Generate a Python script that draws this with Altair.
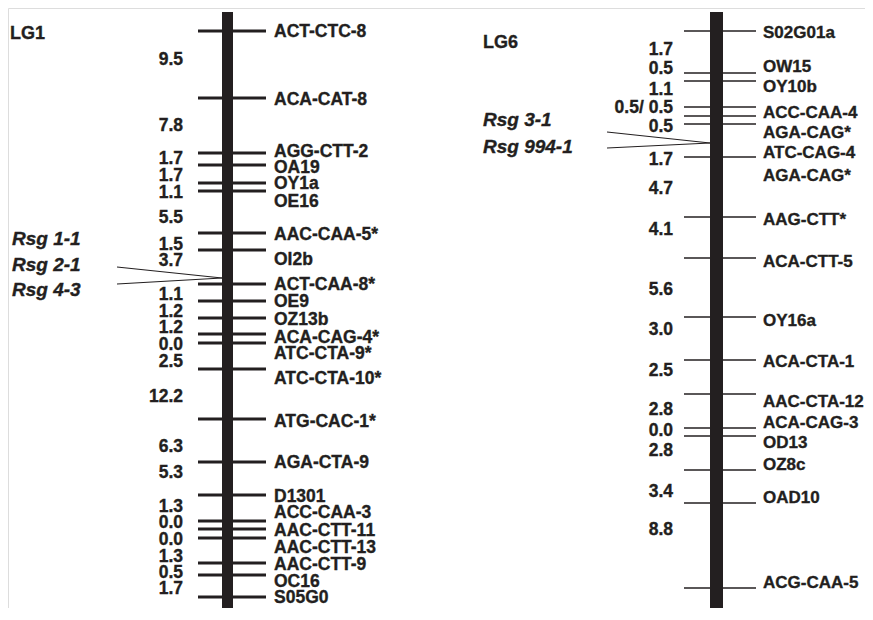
import altair as alt
import pandas as pd

# ---------------- data ----------------
# LG1 markers, their drawn map positions and label positions
lg1_markers = ["ACT-CTC-8", "ACA-CAT-8", "AGG-CTT-2", "OA19", "OY1a", "OE16",
               "AAC-CAA-5*", "OI2b", "ACT-CAA-8*", "OE9", "OZ13b", "ACA-CAG-4*",
               "ATC-CTA-9*", "ATC-CTA-10*", "ATG-CAC-1*", "AGA-CTA-9", "D1301",
               "ACC-CAA-3", "AAC-CTT-11", "AAC-CTT-13", "AAC-CTT-9", "OC16", "S05G0"]
lg1_pos = [31, 98, 153, 165, 183, 191, 233, 250, 284, 301, 318, 334, 343, 369,
           419, 462, 495, 521, 529, 538, 563, 575, 597]
lg1_label_pos = [32, 100, 152, 168, 184, 202, 235, 260, 285, 302, 320, 338, 354,
                 379, 422, 463, 497, 513, 531, 548, 565, 582, 598]
lg1_dist = ["9.5", "7.8", "1.7", "1.7", "1.1", "5.5", "1.5", "3.7", "1.1", "1.2",
            "1.2", "0.0", "2.5", "12.2", "6.3", "5.3", "1.3", "0.0", "0.0", "1.3",
            "0.5", "1.7"]
lg1_dist_pos = [60, 126, 159, 176, 193, 218, 245, 261, 295, 312, 328, 345, 362,
                397, 447, 473, 507, 523, 540, 557, 573, 589]
lg1_qtl = ["Rsg 1-1", "Rsg 2-1", "Rsg 4-3"]
lg1_qtl_pos = [239, 265, 290]
lg1_qtl_line_from = [267, 284]
lg1_qtl_at = 278

# LG6
lg6_markers = ["S02G01a", "OW15", "OY10b", "", "ACC-CAA-4", "AGA-CAG*", "ATC-CAG-4",
               "AGA-CAG*", "AAG-CTT*", "ACA-CTT-5", "OY16a", "ACA-CTA-1",
               "AAC-CTA-12", "ACA-CAG-3", "OD13", "OZ8c", "OAD10", "ACG-CAA-5"]
lg6_pos = [31, 73, 81, 107, 116, 124, 157, None, 217, 258, 317, 360, 394, 428,
           436, 470, 503, 588]
lg6_label_pos = [33, 67, 87, None, 113, 133, 153, 176, 220, 262, 321, 362, 402,
                 423, 443, 465, 498, 583]
lg6_dist = ["1.7", "0.5", "1.1", "0.5/ 0.5", "0.5", "1.7", "4.7", "4.1", "5.6",
            "3.0", "2.5", "2.8", "0.0", "2.8", "3.4", "8.8"]
lg6_dist_pos = [50, 69, 90, 108, 127, 160, 189, 230, 290, 330, 371, 410, 431,
                451, 492, 530]
lg6_qtl = ["Rsg 3-1", "Rsg 994-1"]
lg6_qtl_pos = [120, 147]
lg6_qtl_line_from = [132, 148]
lg6_qtl_at = 143

# ---------------- layout (page pixels) ----------------
W, H = 857, 600
layout = {
    "LG1": dict(bar=(222, 233), top=12, bottom=618, tick=(198, 266), tw=3.0,
                label_x=274, label_fs=17.5, dist_x=183, title=(10, 34),
                qtl_x=12, qline_x=117),
    "LG6": dict(bar=(710, 723), top=12, bottom=614, tick=(684, 756), tw=1.5,
                label_x=763, label_fs=17, dist_x=673, title=(483, 43),
                qtl_x=483, qline_x=607),
}
INK = "#231f20"
FONT = "Liberation Sans"

bars, ticks, labels, dists, titles, qlabels, qlines = [], [], [], [], [], [], []
for g, mk, ps, lp, ds, dp, qn, qp, qf, qa in [
    ("LG1", lg1_markers, lg1_pos, lg1_label_pos, lg1_dist, lg1_dist_pos,
     lg1_qtl, lg1_qtl_pos, lg1_qtl_line_from, lg1_qtl_at),
    ("LG6", lg6_markers, lg6_pos, lg6_label_pos, lg6_dist, lg6_dist_pos,
     lg6_qtl, lg6_qtl_pos, lg6_qtl_line_from, lg6_qtl_at),
]:
    L = layout[g]
    bars.append(dict(x=L["bar"][0], x2=L["bar"][1], y=L["top"], y2=L["bottom"]))
    for p in ps:
        if p is not None:
            ticks.append(dict(g=g, x=L["tick"][0], x2=L["tick"][1], y=p, w=L["tw"]))
    for name, p in zip(mk, lp):
        if name and p is not None:
            labels.append(dict(x=L["label_x"], y=p, t=name, fs=L["label_fs"]))
    for d, p in zip(ds, dp):
        dists.append(dict(x=L["dist_x"], y=p, t=d))
    titles.append(dict(x=L["title"][0], y=L["title"][1], t=g))
    for n, p in zip(qn, qp):
        qlabels.append(dict(x=L["qtl_x"], y=p, t=n))
    for f in qf:
        qlines.append(dict(x=L["qline_x"], x2=L["bar"][0], y=f, y2=qa))

xs = alt.Scale(domain=[8, 8 + W], nice=False, zero=False)
ys = alt.Scale(domain=[8, 8 + H], nice=False, zero=False, reverse=True)
X = lambda f="x": alt.X(f"{f}:Q", scale=xs, axis=None)
Y = lambda f="y": alt.Y(f"{f}:Q", scale=ys, axis=None)

txt = dict(baseline="middle", font=FONT, fontWeight="bold", color=INK,
           stroke=INK, strokeWidth=0.35)

tick_layer = alt.Chart(pd.DataFrame(ticks)).mark_rule(color=INK).encode(
    x=X(), x2="x2:Q", y=Y(),
    strokeWidth=alt.StrokeWidth("w:Q", scale=None, legend=None))
bar_layer = alt.Chart(pd.DataFrame(bars)).mark_rect(color=INK).encode(
    x=X(), x2="x2:Q", y=Y(), y2="y2:Q")
qline_layer = alt.Chart(pd.DataFrame(qlines)).mark_rule(color=INK, strokeWidth=1.1).encode(
    x=X(), x2="x2:Q", y=Y(), y2="y2:Q")
label_layer = alt.Chart(pd.DataFrame(labels)).mark_text(
    align="left", **txt).encode(
    x=X(), y=Y(), text="t:N", size=alt.Size("fs:Q", scale=None, legend=None))
dist_layer = alt.Chart(pd.DataFrame(dists)).mark_text(
    align="right", fontSize=17.5, **txt).encode(x=X(), y=Y(), text="t:N")
title_layer = alt.Chart(pd.DataFrame(titles)).mark_text(
    align="left", fontSize=18, **txt).encode(x=X(), y=Y(), text="t:N")
qlabel_layer = alt.Chart(pd.DataFrame(qlabels)).mark_text(
    align="left", fontStyle="italic", fontSize=19, **txt).encode(x=X(), y=Y(), text="t:N")

chart = alt.layer(
    tick_layer, bar_layer, qline_layer, label_layer, dist_layer, title_layer, qlabel_layer
).properties(
    width=W, height=H, autosize=alt.AutoSizeParams(type="none"), padding=0
).configure_view(stroke=None).configure(background="white")

chart.save("out.html", embed_options={"renderer": "svg", "actions": False})
